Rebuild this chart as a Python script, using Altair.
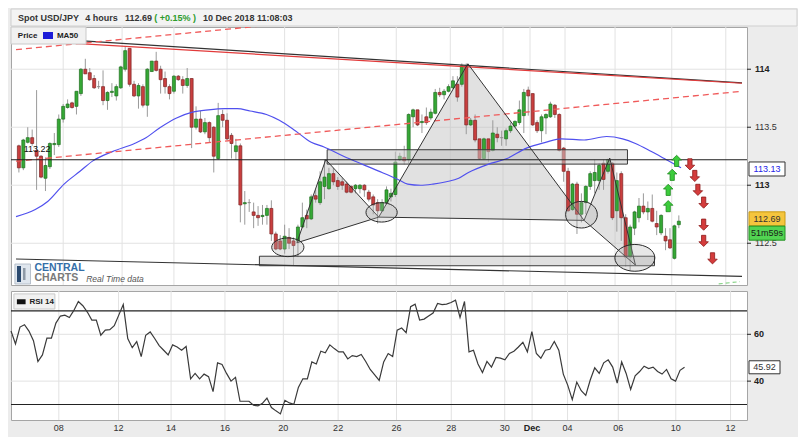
import altair as alt
import pandas as pd

FONT = "Liberation Sans"

# ---------------- data ----------------
opens = [113.34, 113.15, 113.37, 113.41, 113.30, 113.25, 113.06, 113.16, 113.35, 113.35,
         113.57, 113.67, 113.71, 113.68, 113.79, 114.00, 113.97, 113.92, 113.85, 113.85,
         113.73, 113.80, 113.77, 113.84, 114.00, 114.18, 113.87, 113.77, 113.85, 113.69,
         113.98, 114.07, 114.00, 113.92, 113.85, 113.81, 113.94, 113.91, 113.86, 113.92,
         113.50, 113.57, 113.46, 113.54, 113.50, 113.23, 113.61, 113.56, 113.43, 113.29,
         113.34, 112.84, 112.85, 112.77, 112.74, 112.73, 112.74, 112.80, 112.58, 112.52,
         112.45, 112.55, 112.52, 112.52, 112.64, 112.74, 112.71, 112.91, 112.85, 112.99,
         112.97, 113.10, 113.04, 113.03, 113.01, 112.99, 112.97, 112.97, 113.00, 112.94,
         112.90, 112.85, 112.78, 112.85, 112.90, 112.92, 113.22, 113.24, 113.22, 113.59,
         113.65, 113.54, 113.59, 113.58, 113.62, 113.80, 113.78, 113.81, 113.84, 113.87,
         113.87, 114.03, 113.52, 113.56, 113.40, 113.23, 113.40, 113.30, 113.44, 113.41,
         113.40, 113.47, 113.51, 113.54, 113.60, 113.82, 113.79, 113.54, 113.47, 113.58,
         113.59, 113.69, 113.61, 113.32, 113.12, 112.79, 113.01, 112.75, 112.85, 112.99,
         113.04, 113.04, 113.19, 113.12, 113.19, 112.78, 113.10, 112.72, 112.38, 112.63,
         112.72, 112.82, 112.77, 112.80, 112.67, 112.59, 112.56, 112.53, 112.37, 112.66]
highs = [113.35, 113.40, 113.50, 113.48, 113.82, 113.26, 113.24, 113.37, 113.45, 113.61,
         113.70, 113.74, 113.72, 113.81, 114.01, 114.09, 114.01, 113.95, 113.90, 113.99,
         113.81, 113.88, 113.87, 114.03, 114.20, 114.18, 113.90, 113.88, 113.87, 114.01,
         114.07, 114.15, 114.03, 113.98, 113.87, 113.95, 113.95, 113.94, 114.01, 113.92,
         113.68, 113.64, 113.58, 113.55, 113.51, 113.71, 113.65, 113.62, 113.45, 113.40,
         113.36, 112.95, 112.88, 112.85, 112.82, 112.83, 112.83, 112.87, 112.60, 112.57,
         112.66, 112.63, 112.55, 112.66, 112.85, 112.79, 112.92, 112.96, 113.12, 113.22,
         113.15, 113.15, 113.07, 113.06, 113.03, 113.00, 113.01, 113.01, 113.01, 112.96,
         112.92, 112.88, 112.88, 112.99, 112.97, 113.29, 113.28, 113.34, 113.62, 113.66,
         113.65, 113.61, 113.67, 113.66, 113.83, 113.84, 113.83, 113.87, 113.94, 113.94,
         114.05, 114.05, 113.58, 113.61, 113.40, 113.41, 113.40, 113.56, 113.50, 113.47,
         113.49, 113.54, 113.56, 113.73, 113.83, 113.85, 113.79, 113.56, 113.61, 113.62,
         113.72, 113.70, 113.62, 113.33, 113.15, 113.02, 113.03, 112.93, 113.00, 113.12,
         113.22, 113.19, 113.22, 113.23, 113.20, 113.11, 113.12, 112.75, 112.66, 112.78,
         112.89, 112.93, 112.86, 112.92, 112.78, 112.75, 112.63, 112.63, 112.66, 112.74]
lows = [113.11, 113.13, 113.36, 113.34, 112.96, 113.06, 112.95, 113.14, 113.26, 113.33,
        113.54, 113.66, 113.66, 113.61, 113.77, 113.96, 113.90, 113.83, 113.83, 113.69,
        113.65, 113.76, 113.73, 113.83, 113.98, 113.85, 113.76, 113.66, 113.67, 113.59,
        113.98, 113.98, 113.79, 113.79, 113.74, 113.79, 113.90, 113.79, 113.84, 113.32,
        113.48, 113.45, 113.44, 113.37, 113.11, 113.22, 113.50, 113.39, 113.23, 113.22,
        112.68, 112.66, 112.77, 112.63, 112.65, 112.66, 112.66, 112.52, 112.44, 112.44,
        112.41, 112.45, 112.31, 112.38, 112.63, 112.63, 112.70, 112.85, 112.83, 112.88,
        112.96, 113.00, 112.96, 112.96, 112.93, 112.93, 112.93, 112.93, 112.90, 112.86,
        112.75, 112.67, 112.77, 112.83, 112.86, 112.90, 113.21, 113.18, 113.19, 113.50,
        113.51, 113.45, 113.52, 113.56, 113.61, 113.76, 113.74, 113.80, 113.83, 113.72,
        113.85, 113.44, 113.51, 113.37, 113.22, 113.22, 113.20, 113.29, 113.37, 113.34,
        113.34, 113.45, 113.50, 113.52, 113.45, 113.60, 113.51, 113.45, 113.37, 113.44,
        113.58, 113.58, 113.29, 113.03, 112.77, 112.78, 112.58, 112.68, 112.75, 112.96,
        112.93, 112.96, 112.96, 113.10, 112.70, 112.60, 112.52, 112.30, 112.26, 112.57,
        112.68, 112.75, 112.70, 112.68, 112.57, 112.57, 112.44, 112.45, 112.36, 112.63]
closes = [113.15, 113.39, 113.41, 113.36, 113.25, 113.07, 113.17, 113.36, 113.36, 113.57,
          113.68, 113.70, 113.67, 113.81, 114.00, 113.96, 113.91, 113.84, 113.85, 113.73,
          113.80, 113.81, 113.85, 114.02, 114.16, 113.87, 113.77, 113.86, 113.69, 114.00,
          114.07, 113.99, 113.91, 113.85, 113.79, 113.94, 113.91, 113.86, 113.92, 113.50,
          113.57, 113.46, 113.54, 113.41, 113.25, 113.60, 113.56, 113.40, 113.36, 113.34,
          112.83, 112.85, 112.85, 112.74, 112.72, 112.74, 112.80, 112.58, 112.45, 112.45,
          112.56, 112.50, 112.48, 112.64, 112.72, 112.71, 112.90, 112.88, 113.03, 113.07,
          113.10, 113.03, 112.99, 113.00, 112.94, 112.94, 113.00, 113.00, 112.96, 112.88,
          112.83, 112.78, 112.85, 112.96, 112.93, 113.20, 113.25, 113.21, 113.61, 113.65,
          113.52, 113.55, 113.54, 113.63, 113.80, 113.78, 113.81, 113.85, 113.90, 113.76,
          114.03, 113.52, 113.56, 113.39, 113.23, 113.40, 113.29, 113.45, 113.41, 113.41,
          113.47, 113.51, 113.55, 113.65, 113.80, 113.77, 113.52, 113.47, 113.59, 113.61,
          113.70, 113.61, 113.30, 113.12, 112.78, 113.01, 112.75, 112.85, 112.99, 113.10,
          113.11, 113.17, 113.05, 113.22, 112.72, 113.04, 112.72, 112.38, 112.64, 112.77,
          112.82, 112.77, 112.80, 112.69, 112.64, 112.74, 112.52, 112.46, 112.65, 112.69]

ma_index = [-0.65, 3.7, 6.5, 10.2, 13.8, 16.7, 21.1, 26.1, 28.3, 32.0, 35.6, 39.2, 42.8,
            46.5, 49.3, 52.2, 55.9, 58.8, 62.4, 66.0, 68.9, 73.3, 77.6, 82.0, 85.6, 87.8,
            90.7, 93.5, 96.5, 99.3, 101.5, 105.9, 110.2, 114.6, 118.9, 122.5, 127.6, 132.7,
            136.3, 139.2, 142.8, 145.7, 149.5]
ma_values = [112.73, 112.79, 112.86, 113.01, 113.12, 113.21, 113.29, 113.36, 113.40, 113.50,
             113.58, 113.63, 113.65, 113.66, 113.66, 113.64, 113.61, 113.56, 113.47, 113.37,
             113.33, 113.25, 113.18, 113.11, 113.05, 113.01, 113.00, 113.01, 113.03, 113.06,
             113.11, 113.18, 113.23, 113.32, 113.37, 113.40, 113.39, 113.42, 113.40, 113.36,
             113.29, 113.23, 113.15]

rsi_values = [61.4, 55.9, 63.1, 64.1, 61.4, 57.3, 48.4, 51.2, 58.4, 58.4,
              64.8, 67.8, 68.2, 67.2, 70.2, 74.0, 72.2, 69.5, 66.1, 66.1,
              59.6, 61.8, 62.0, 63.7, 68.2, 72.7, 58.2, 54.3, 56.9, 50.5,
              59.6, 61.0, 58.2, 55.2, 53.2, 51.2, 55.5, 54.6, 53.2, 54.8,
              41.0, 43.3, 41.0, 43.0, 41.9, 35.5, 47.8, 47.1, 43.3, 40.0,
              41.6, 31.4, 31.4, 31.4, 29.7, 29.4, 30.5, 32.8, 28.7, 27.3,
              26.0, 31.8, 30.7, 30.1, 37.3, 41.0, 41.0, 48.2, 47.3, 52.8,
              52.1, 55.5, 53.9, 52.5, 52.5, 49.5, 50.9, 50.5, 51.4, 48.4,
              45.0, 42.7, 40.3, 48.2, 51.8, 50.5, 61.8, 62.7,
              60.7, 71.8, 72.9, 66.1, 66.5, 67.8, 69.1, 73.2, 72.7, 72.9,
              73.6, 74.6, 67.2, 74.0, 52.5, 53.2, 47.3, 43.7, 48.4, 46.0,
              50.1, 49.8, 49.1, 51.8, 52.8, 54.6, 56.6, 52.5, 61.1, 51.8,
              49.8, 53.2, 53.6, 56.9, 53.2, 43.0, 38.2, 32.1, 39.6, 35.9,
              33.9, 40.5, 45.7, 43.3, 47.8, 49.1, 46.0, 39.2, 48.2, 43.3,
              36.5, 42.3, 44.1, 46.4, 45.4, 46.0, 44.1, 43.0, 45.0, 41.0,
              40.0, 44.6, 45.9]

day_labels = ["08", "12", "14", "16", "20", "22", "26", "28", "30", "Dec", "04", "06", "10", "12"]
day_index = [10.0, 23.3, 35.0, 47.0, 60.0, 72.2, 85.2, 97.4, 109.3, 115.4, 123.3, 134.6, 147.4, 159.6]

price_ticks = [112.5, 113.0, 113.5, 114.0]
price_tick_text = ["112.5", "113", "113.5", "114"]
rsi_ticks = [40, 60]
rsi_bounds = [30, 70]

line_x = [-0.652, 163.26]
top_black_y = [114.281, 113.882]
top_red_y = [114.253, 113.879]
dash_upper_y = [114.169, 114.773]
dash_lower_y = [113.207, 113.810]
bottom_black_y = [112.364, 112.215]
level_price = 113.22
green_dash_x = [158.0, 162.8]
green_dash_y = [112.149, 112.169]

zone_x1 = [69.6, 54.3]
zone_x2 = [137.4, 143.5]
zone_top = [113.306, 112.388]
zone_bottom = [113.182, 112.306]

tri_id = ["a", "a", "a", "b", "b", "b", "c", "c", "c"]
tri_k = [0, 1, 2, 0, 1, 2, 0, 1, 2]
tri_x = [62.76, 69.28, 81.24, 81.24, 101.37, 127.6, 127.6, 133.4, 139.2]
tri_y = [112.504, 113.221, 112.725, 112.725, 114.047, 112.697, 112.697, 113.234, 112.312]

ell_x = [60.72, 81.89, 127.02, 139.07]
ell_y = [112.465, 112.766, 112.746, 112.374]
ell_w = [33, 32, 32.5, 41]
ell_ratio = [0.58, 0.62, 0.84, 0.67]

up_x = [148.5, 147.5, 146.6, 146.6]
up_y = [113.21, 113.09, 112.96, 112.82]
down_x = [151.5, 152.6, 153.3, 154.6, 154.6, 154.6, 156.6]
down_y = [113.18, 113.08, 112.96, 112.85, 112.66, 112.52, 112.37]

last_price = 112.69
ma_last = 113.13
rsi_last = 45.92

# ---------------- layout ----------------
W, H, H2 = 736, 258, 129
xs = alt.Scale(domain=[-0.652, 163.26], nice=False, zero=False)
ys = alt.Scale(domain=[112.14, 114.364], nice=False, zero=False)
rs = alt.Scale(domain=[23.4, 78.5], nice=False, zero=False)


def X(f):
    return alt.X(f + ":Q", scale=xs, axis=None)


def Y(f):
    return alt.Y(f + ":Q", scale=ys, axis=None)


def R(f):
    return alt.Y(f + ":Q", scale=rs, axis=None)


ONE = pd.DataFrame({"t": [""]})


def label(text, x, y, size=9, weight="normal", color="#333333", align="left", style="normal"):
    return alt.Chart(pd.DataFrame({"t": [text]})).mark_text(
        align=align, baseline="middle", fontSize=size, fontWeight=weight,
        color=color, font=FONT, fontStyle=style
    ).encode(x=alt.value(x), y=alt.value(y), text="t:N")


def box(x1, x2, y1, y2, fill, stroke=None, sw=1.0):
    kw = dict(fill=fill)
    if stroke:
        kw.update(stroke=stroke, strokeWidth=sw)
    else:
        kw.update(strokeWidth=0)
    return alt.Chart(ONE).mark_rect(**kw).encode(
        x=alt.value(x1), x2=alt.value(x2), y=alt.value(y1), y2=alt.value(y2))


def seg(xv, yv):
    return pd.DataFrame({"x": xv, "y": yv})


dir_fill = {"up": "#35a835", "down": "#c93f3f", "flat": "#d6d6d6"}
dir_stroke = {"up": "#1e6e1e", "down": "#7c2222", "flat": "#8a8a8a"}
cdl = pd.DataFrame({"i": list(range(len(opens))), "o": opens, "h": highs, "l": lows, "c": closes})
cdl["dir"] = ["up" if c > o + 0.004 else "down" if c < o - 0.004 else "flat"
              for o, c in zip(opens, closes)]
cdl["f"] = cdl["dir"].map(dir_fill)
cdl["s"] = cdl["dir"].map(dir_stroke)

days = pd.DataFrame({"x": day_index, "t": day_labels})
days["b"] = [t == "Dec" for t in day_labels]

# ---------------- main price panel ----------------
grid_h = alt.Chart(pd.DataFrame({"p": price_ticks})).mark_rule(color="#e2e2e2").encode(y=Y("p"))
grid_v = alt.Chart(days).mark_rule(color="#e2e2e2").encode(x=X("x"))

tris = pd.DataFrame({"t": tri_id, "k": tri_k, "x": tri_x, "y": tri_y})
tri_fill = alt.Chart(tris).mark_line(
    interpolate="linear-closed", fill="#bdbdbd", fillOpacity=0.45, strokeOpacity=0
).encode(x=X("x"), y=Y("y"), detail="t:N", order=alt.Order("k:Q"))
tri_line = alt.Chart(tris).mark_line(
    interpolate="linear-closed", color="#333333", strokeWidth=1
).encode(x=X("x"), y=Y("y"), detail="t:N", order=alt.Order("k:Q"))

zones = alt.Chart(pd.DataFrame({"x1": zone_x1, "x2": zone_x2, "t": zone_top, "b": zone_bottom})).mark_rect(
    fill="#c4c4c4", fillOpacity=0.55, stroke="#3a3a3a", strokeWidth=1
).encode(x=X("x1"), x2=alt.X2("x2"), y=Y("t"), y2=alt.Y2("b"))

wicks = alt.Chart(cdl).mark_rule(color="#9a9a9a", strokeWidth=1).encode(
    x=X("i"), y=Y("l"), y2=alt.Y2("h"))
bodies = alt.Chart(cdl).mark_bar(size=3, strokeWidth=0.7).encode(
    x=X("i"), y=Y("o"), y2=alt.Y2("c"),
    fill=alt.Fill("f:N", scale=None), stroke=alt.Stroke("s:N", scale=None))

ma = alt.Chart(pd.DataFrame({"x": ma_index, "y": ma_values})).mark_line(
    color="#5050ee", strokeWidth=1.2, interpolate="monotone").encode(x=X("x"), y=Y("y"))

top_black = alt.Chart(seg(line_x, top_black_y)).mark_line(color="#333333", strokeWidth=1.2).encode(x=X("x"), y=Y("y"))
top_red = alt.Chart(seg(line_x, top_red_y)).mark_line(color="#e23a3a", strokeWidth=1.2).encode(x=X("x"), y=Y("y"))
dash_up = alt.Chart(seg(line_x, dash_upper_y)).mark_line(
    color="#f05a5a", strokeWidth=1.3, strokeDash=[6, 4], clip=True).encode(x=X("x"), y=Y("y"))
dash_lo = alt.Chart(seg(line_x, dash_lower_y)).mark_line(
    color="#f05a5a", strokeWidth=1.3, strokeDash=[6, 4], clip=True).encode(x=X("x"), y=Y("y"))
bottom_black = alt.Chart(seg(line_x, bottom_black_y)).mark_line(color="#333333", strokeWidth=1.2).encode(x=X("x"), y=Y("y"))
green_dash = alt.Chart(seg(green_dash_x, green_dash_y)).mark_line(
    color="#86d386", strokeWidth=1.2, strokeDash=[4, 3], clip=True).encode(x=X("x"), y=Y("y"))
level = alt.Chart(pd.DataFrame({"p": [level_price]})).mark_rule(color="#1e1e1e", strokeWidth=1.1).encode(y=Y("p"))
level_txt = alt.Chart(pd.DataFrame({"x": [1.1], "y": [113.31], "t": ["113.22"]})).mark_text(
    align="left", baseline="middle", fontSize=9, color="#111111", font=FONT
).encode(x=X("x"), y=Y("y"), text="t:N")

ell = pd.DataFrame({"x": ell_x, "y": ell_y})
ell["shape"] = ["M-1,0 A1,%.2f 0 1,1 1,0 A1,%.2f 0 1,1 -1,0 Z" % (r, r) for r in ell_ratio]
ell["size"] = [(w * W / 754.0) ** 2 for w in ell_w]
ellipses = alt.Chart(ell).mark_point(
    filled=True, fill="#b0b0b0", fillOpacity=0.3, stroke="#2a2a2a", strokeWidth=1, opacity=1
).encode(x=X("x"), y=Y("y"), shape=alt.Shape("shape:N", scale=None), size=alt.Size("size:Q", scale=None))

UP = "M0,-1 L0.85,-0.15 L0.38,-0.15 L0.38,1 L-0.38,1 L-0.38,-0.15 L-0.85,-0.15 Z"
DOWN = "M0,1 L0.85,0.15 L0.38,0.15 L0.38,-1 L-0.38,-1 L-0.38,0.15 L-0.85,0.15 Z"
arr = pd.DataFrame({"x": up_x + down_x, "y": up_y + down_y,
                    "d": ["up"] * len(up_x) + ["down"] * len(down_x)})
arr["shape"] = [UP if d == "up" else DOWN for d in arr["d"]]
arr["f"] = ["#3ccc3c" if d == "up" else "#d43c3c" for d in arr["d"]]
arr["s"] = ["#1f8a1f" if d == "up" else "#8e1c1c" for d in arr["d"]]
arrows = alt.Chart(arr).mark_point(filled=True, opacity=1, strokeWidth=0.8, size=125).encode(
    x=X("x"), y=Y("y"), shape=alt.Shape("shape:N", scale=None),
    fill=alt.Fill("f:N", scale=None), stroke=alt.Stroke("s:N", scale=None))

# right price axis
ptk = pd.DataFrame({"p": price_ticks, "t": price_tick_text})
ptk["b"] = [p % 1 == 0 for p in price_ticks]
p_ticks = alt.Chart(ptk).mark_rule(color="#222222").encode(x=alt.value(W), x2=alt.value(W + 4), y=Y("p"))
p_lab_b = alt.Chart(ptk).transform_filter("datum.b").mark_text(
    align="left", baseline="middle", fontSize=9, fontWeight="bold", color="#222222", font=FONT
).encode(x=alt.value(W + 8), y=Y("p"), text="t:N")
p_lab_n = alt.Chart(ptk).transform_filter("!datum.b").mark_text(
    align="left", baseline="middle", fontSize=9, color="#333333", font=FONT
).encode(x=alt.value(W + 8), y=Y("p"), text="t:N")

BOX = "M-1,-0.39 L1,-0.39 L1,0.39 L-1,0.39 Z"
tags = pd.DataFrame({"p": [ma_last + 0.01, last_price + 0.02, last_price - 0.103],
                     "t": ["113.13", "112.69", "51m59s"],
                     "f": ["#ffffff", "#f5c53d", "#52d452"],
                     "s": ["#333333", "#c99a12", "#239023"],
                     "tc": ["#2424e8", "#333333", "#1a1a1a"]})
tag_box = alt.Chart(tags).mark_point(shape=BOX, size=1296, filled=True, opacity=1, strokeWidth=1).encode(
    x=alt.value(W + 20), y=Y("p"), fill=alt.Fill("f:N", scale=None), stroke=alt.Stroke("s:N", scale=None))
tag_txt = alt.Chart(tags).mark_text(align="center", baseline="middle", fontSize=9, font=FONT).encode(
    x=alt.value(W + 20), y=Y("p"), text="t:N", color=alt.Color("tc:N", scale=None))

# title bar, legend, logo
title_layers = [
    box(0, W + 50, -18, -1, "#f3f3f3", "#cfcfcf"),
    label("Spot USD/JPY", 7.1, -9, weight="bold"),
    label("4 hours", 74.2, -9, weight="bold"),
    label("112.69", 113.9, -9, weight="bold"),
    label("( +0.15% )", 143.2, -9, weight="bold", color="#2c9c2c"),
    label("10 Dec 2018 11:08:03", 192, -9, weight="bold"),
]
legend_layers = [
    box(0, 75, 0, 17, "#f1f1f1", "#c9c9c9"),
    label("Price", 6.8, 9, size=8, weight="bold", color="#222222"),
    box(32, 42, 5, 12, "#1c1cd8"),
    label("MA50", 45.9, 9, size=8, weight="bold", color="#222222"),
]
logo_layers = [
    box(3.9, 19.5, 237, 257, "#dfe6ee", "#a9b4c0", 0.8),
    box(6, 10, 239, 255, "#2b4a6f"),
    box(12, 14.5, 241, 253, "#8d99a6"),
    label("CENTRAL", 23.4, 240.5, size=10.5, weight="bold", color="#356fa8"),
    label("CHARTS", 23.4, 251.3, size=10.5, weight="bold", color="#7a7a7a"),
    label("Real Time data", 75.2, 252, size=8.5, color="#555555", style="italic"),
]

main = alt.layer(
    grid_h, grid_v, tri_fill, wicks, bodies, zones, ma,
    top_black, top_red, dash_up, dash_lo, bottom_black, green_dash, level,
    tri_line, ellipses, arrows, level_txt,
    p_ticks, p_lab_b, p_lab_n, tag_box, tag_txt,
    *title_layers, *legend_layers, *logo_layers,
).properties(width=W, height=H)

# ---------------- RSI panel ----------------
rsi_df = pd.DataFrame({"x": [k - 0.652 for k in range(len(rsi_values))], "y": rsi_values})
r_grid_h = alt.Chart(pd.DataFrame({"p": rsi_ticks})).mark_rule(color="#e2e2e2").encode(y=R("p"))
r_grid_v = alt.Chart(days).mark_rule(color="#e2e2e2").encode(x=X("x"))
r_bounds = alt.Chart(pd.DataFrame({"p": rsi_bounds})).mark_rule(color="#222222", strokeWidth=1.1).encode(y=R("p"))
r_line = alt.Chart(rsi_df).mark_line(color="#3a3a3a", strokeWidth=1.2).encode(x=X("x"), y=R("y"))
rtk = pd.DataFrame({"p": rsi_ticks, "t": [str(v) for v in rsi_ticks]})
r_ticks = alt.Chart(rtk).mark_rule(color="#222222").encode(x=alt.value(W), x2=alt.value(W + 4), y=R("p"))
r_labs = alt.Chart(rtk).mark_text(
    align="left", baseline="middle", fontSize=9, fontWeight="bold", color="#222222", font=FONT
).encode(x=alt.value(W + 7), y=R("p"), text="t:N")
rtag = pd.DataFrame({"p": [rsi_last], "t": ["%.2f" % rsi_last]})
r_tag_box = alt.Chart(rtag).mark_point(
    shape="M-1,-0.42 L1,-0.42 L1,0.42 L-1,0.42 Z", size=961, filled=True, opacity=1,
    fill="#ffffff", stroke="#333333", strokeWidth=1
).encode(x=alt.value(W + 17.5), y=R("p"))
r_tag_txt = alt.Chart(rtag).mark_text(align="center", baseline="middle", fontSize=9, color="#333333", font=FONT).encode(
    x=alt.value(W + 17.5), y=R("p"), text="t:N")
x_lab_n = alt.Chart(days).transform_filter("!datum.b").mark_text(
    align="center", baseline="middle", fontSize=9, color="#333333", font=FONT
).encode(x=X("x"), y=alt.value(H2 + 8), text="t:N")
x_lab_b = alt.Chart(days).transform_filter("datum.b").mark_text(
    align="center", baseline="middle", fontSize=9, fontWeight="bold", color="#222222", font=FONT
).encode(x=X("x"), y=alt.value(H2 + 8), text="t:N")

rsi = alt.layer(
    r_grid_h, r_grid_v, r_bounds, r_line,
    box(2.9, 43.9, 2.9, 18, "#f1f1f1", "#c9c9c9"),
    box(5.9, 14.6, 8.3, 13.3, "#111111"),
    label("RSI 14", 18.5, 10.6, size=8, weight="bold", color="#222222"),
    r_ticks, r_labs, r_tag_box, r_tag_txt,
    box(0, W + 50, H2 + 1, H2 + 16, "#ececec"),
    x_lab_n, x_lab_b,
).properties(width=W, height=H2)

chart = alt.vconcat(main, rsi, spacing=4).properties(
    padding=0, background="#ececec"
).configure(font=FONT).configure_view(fill="white", stroke="#a5a5a5", strokeWidth=1)

chart.save("out.html", embed_options={"renderer": "svg", "actions": False})
